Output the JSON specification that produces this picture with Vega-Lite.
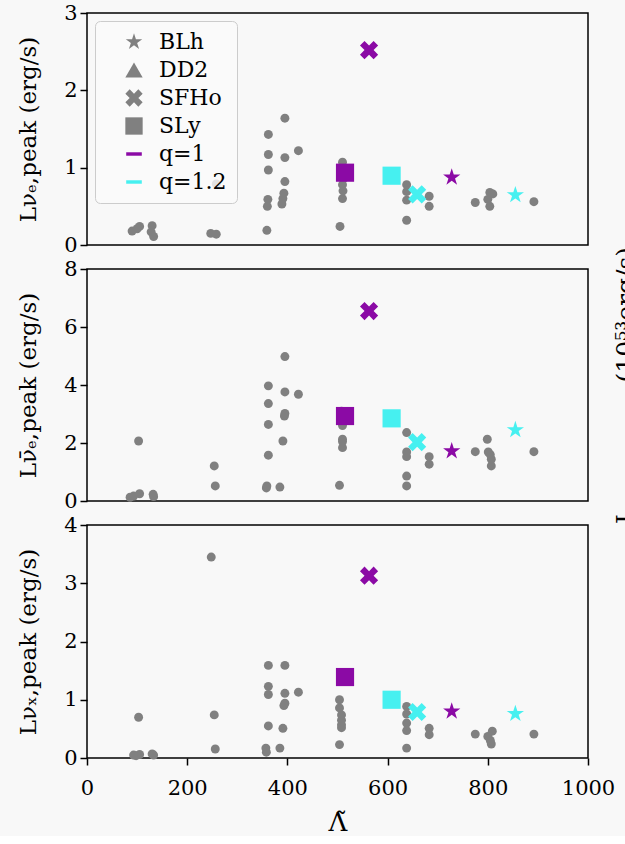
{
  "$schema": "https://vega.github.io/schema/vega-lite/v6.json",
  "background": "#f8f8f8",
  "padding": {"left": 16, "top": 1, "right": -8, "bottom": 0},
  "bounds": "flush",
  "spacing": 24,
  "data": {"name": "pts"},
  "datasets": {
    "pts": [
      {"p":"e","lam":90,"L":0.18,"eos":"","q":""},
      {"p":"e","lam":100,"L":0.21,"eos":"","q":""},
      {"p":"e","lam":105,"L":0.24,"eos":"","q":""},
      {"p":"e","lam":130,"L":0.25,"eos":"","q":""},
      {"p":"e","lam":133,"L":0.11,"eos":"","q":""},
      {"p":"e","lam":128,"L":0.17,"eos":"","q":""},
      {"p":"e","lam":247,"L":0.15,"eos":"","q":""},
      {"p":"e","lam":258,"L":0.14,"eos":"","q":""},
      {"p":"e","lam":258,"L":0.79,"eos":"","q":""},
      {"p":"e","lam":359,"L":0.19,"eos":"","q":""},
      {"p":"e","lam":360,"L":0.50,"eos":"","q":""},
      {"p":"e","lam":361,"L":0.59,"eos":"","q":""},
      {"p":"e","lam":362,"L":0.97,"eos":"","q":""},
      {"p":"e","lam":362,"L":1.17,"eos":"","q":""},
      {"p":"e","lam":362,"L":1.43,"eos":"","q":""},
      {"p":"e","lam":395,"L":1.64,"eos":"","q":""},
      {"p":"e","lam":395,"L":1.13,"eos":"","q":""},
      {"p":"e","lam":395,"L":0.82,"eos":"","q":""},
      {"p":"e","lam":393,"L":0.67,"eos":"","q":""},
      {"p":"e","lam":391,"L":0.60,"eos":"","q":""},
      {"p":"e","lam":389,"L":0.53,"eos":"","q":""},
      {"p":"e","lam":422,"L":1.22,"eos":"","q":""},
      {"p":"e","lam":510,"L":1.07,"eos":"","q":""},
      {"p":"e","lam":510,"L":0.95,"eos":"","q":""},
      {"p":"e","lam":512,"L":0.86,"eos":"","q":""},
      {"p":"e","lam":510,"L":0.78,"eos":"","q":""},
      {"p":"e","lam":511,"L":0.70,"eos":"","q":""},
      {"p":"e","lam":510,"L":0.60,"eos":"","q":""},
      {"p":"e","lam":505,"L":0.24,"eos":"","q":""},
      {"p":"e","lam":638,"L":0.78,"eos":"","q":""},
      {"p":"e","lam":638,"L":0.69,"eos":"","q":""},
      {"p":"e","lam":638,"L":0.58,"eos":"","q":""},
      {"p":"e","lam":638,"L":0.32,"eos":"","q":""},
      {"p":"e","lam":683,"L":0.63,"eos":"","q":""},
      {"p":"e","lam":683,"L":0.50,"eos":"","q":""},
      {"p":"e","lam":775,"L":0.55,"eos":"","q":""},
      {"p":"e","lam":800,"L":0.59,"eos":"","q":""},
      {"p":"e","lam":804,"L":0.68,"eos":"","q":""},
      {"p":"e","lam":810,"L":0.66,"eos":"","q":""},
      {"p":"e","lam":804,"L":0.50,"eos":"","q":""},
      {"p":"e","lam":892,"L":0.56,"eos":"","q":""},
      {"p":"e","lam":515,"L":0.935,"eos":"SLy","q":"q=1"},
      {"p":"e","lam":608,"L":0.896,"eos":"SLy","q":"q=1.2"},
      {"p":"e","lam":563,"L":2.52,"eos":"SFHo","q":"q=1"},
      {"p":"e","lam":659,"L":0.655,"eos":"SFHo","q":"q=1.2"},
      {"p":"e","lam":728,"L":0.875,"eos":"BLh","q":"q=1"},
      {"p":"e","lam":855,"L":0.647,"eos":"BLh","q":"q=1.2"},

      {"p":"ae","lam":86,"L":0.13,"eos":"","q":""},
      {"p":"ae","lam":93,"L":0.17,"eos":"","q":""},
      {"p":"ae","lam":103,"L":2.07,"eos":"","q":""},
      {"p":"ae","lam":105,"L":0.25,"eos":"","q":""},
      {"p":"ae","lam":132,"L":0.23,"eos":"","q":""},
      {"p":"ae","lam":133,"L":0.15,"eos":"","q":""},
      {"p":"ae","lam":254,"L":1.21,"eos":"","q":""},
      {"p":"ae","lam":256,"L":0.52,"eos":"","q":""},
      {"p":"ae","lam":359,"L":0.52,"eos":"","q":""},
      {"p":"ae","lam":358,"L":0.45,"eos":"","q":""},
      {"p":"ae","lam":362,"L":1.58,"eos":"","q":""},
      {"p":"ae","lam":362,"L":2.64,"eos":"","q":""},
      {"p":"ae","lam":362,"L":3.36,"eos":"","q":""},
      {"p":"ae","lam":362,"L":3.97,"eos":"","q":""},
      {"p":"ae","lam":385,"L":0.48,"eos":"","q":""},
      {"p":"ae","lam":395,"L":4.98,"eos":"","q":""},
      {"p":"ae","lam":395,"L":3.76,"eos":"","q":""},
      {"p":"ae","lam":395,"L":3.02,"eos":"","q":""},
      {"p":"ae","lam":394,"L":2.93,"eos":"","q":""},
      {"p":"ae","lam":391,"L":2.07,"eos":"","q":""},
      {"p":"ae","lam":422,"L":3.68,"eos":"","q":""},
      {"p":"ae","lam":508,"L":3.1,"eos":"","q":""},
      {"p":"ae","lam":510,"L":2.6,"eos":"","q":""},
      {"p":"ae","lam":510,"L":2.13,"eos":"","q":""},
      {"p":"ae","lam":510,"L":2.05,"eos":"","q":""},
      {"p":"ae","lam":510,"L":1.84,"eos":"","q":""},
      {"p":"ae","lam":504,"L":0.54,"eos":"","q":""},
      {"p":"ae","lam":638,"L":2.36,"eos":"","q":""},
      {"p":"ae","lam":638,"L":1.69,"eos":"","q":""},
      {"p":"ae","lam":638,"L":1.53,"eos":"","q":""},
      {"p":"ae","lam":638,"L":0.86,"eos":"","q":""},
      {"p":"ae","lam":638,"L":0.52,"eos":"","q":""},
      {"p":"ae","lam":683,"L":1.53,"eos":"","q":""},
      {"p":"ae","lam":683,"L":1.27,"eos":"","q":""},
      {"p":"ae","lam":775,"L":1.70,"eos":"","q":""},
      {"p":"ae","lam":799,"L":2.13,"eos":"","q":""},
      {"p":"ae","lam":801,"L":1.69,"eos":"","q":""},
      {"p":"ae","lam":805,"L":1.60,"eos":"","q":""},
      {"p":"ae","lam":807,"L":1.44,"eos":"","q":""},
      {"p":"ae","lam":807,"L":1.21,"eos":"","q":""},
      {"p":"ae","lam":892,"L":1.70,"eos":"","q":""},
      {"p":"ae","lam":515,"L":2.93,"eos":"SLy","q":"q=1"},
      {"p":"ae","lam":608,"L":2.85,"eos":"SLy","q":"q=1.2"},
      {"p":"ae","lam":563,"L":6.55,"eos":"SFHo","q":"q=1"},
      {"p":"ae","lam":659,"L":2.03,"eos":"SFHo","q":"q=1.2"},
      {"p":"ae","lam":728,"L":1.72,"eos":"BLh","q":"q=1"},
      {"p":"ae","lam":855,"L":2.45,"eos":"BLh","q":"q=1.2"},

      {"p":"x","lam":93,"L":0.05,"eos":"","q":""},
      {"p":"x","lam":98,"L":0.04,"eos":"","q":""},
      {"p":"x","lam":103,"L":0.70,"eos":"","q":""},
      {"p":"x","lam":105,"L":0.06,"eos":"","q":""},
      {"p":"x","lam":130,"L":0.07,"eos":"","q":""},
      {"p":"x","lam":133,"L":0.05,"eos":"","q":""},
      {"p":"x","lam":248,"L":3.45,"eos":"","q":""},
      {"p":"x","lam":254,"L":0.74,"eos":"","q":""},
      {"p":"x","lam":256,"L":0.155,"eos":"","q":""},
      {"p":"x","lam":362,"L":1.59,"eos":"","q":""},
      {"p":"x","lam":362,"L":1.23,"eos":"","q":""},
      {"p":"x","lam":362,"L":1.09,"eos":"","q":""},
      {"p":"x","lam":362,"L":0.55,"eos":"","q":""},
      {"p":"x","lam":357,"L":0.17,"eos":"","q":""},
      {"p":"x","lam":358,"L":0.10,"eos":"","q":""},
      {"p":"x","lam":385,"L":0.17,"eos":"","q":""},
      {"p":"x","lam":395,"L":1.59,"eos":"","q":""},
      {"p":"x","lam":395,"L":1.11,"eos":"","q":""},
      {"p":"x","lam":395,"L":0.94,"eos":"","q":""},
      {"p":"x","lam":393,"L":0.90,"eos":"","q":""},
      {"p":"x","lam":391,"L":0.51,"eos":"","q":""},
      {"p":"x","lam":422,"L":1.13,"eos":"","q":""},
      {"p":"x","lam":504,"L":1.0,"eos":"","q":""},
      {"p":"x","lam":504,"L":0.86,"eos":"","q":""},
      {"p":"x","lam":508,"L":0.74,"eos":"","q":""},
      {"p":"x","lam":508,"L":0.65,"eos":"","q":""},
      {"p":"x","lam":508,"L":0.57,"eos":"","q":""},
      {"p":"x","lam":508,"L":0.52,"eos":"","q":""},
      {"p":"x","lam":504,"L":0.23,"eos":"","q":""},
      {"p":"x","lam":638,"L":0.885,"eos":"","q":""},
      {"p":"x","lam":638,"L":0.755,"eos":"","q":""},
      {"p":"x","lam":638,"L":0.60,"eos":"","q":""},
      {"p":"x","lam":638,"L":0.47,"eos":"","q":""},
      {"p":"x","lam":638,"L":0.17,"eos":"","q":""},
      {"p":"x","lam":683,"L":0.51,"eos":"","q":""},
      {"p":"x","lam":683,"L":0.40,"eos":"","q":""},
      {"p":"x","lam":775,"L":0.41,"eos":"","q":""},
      {"p":"x","lam":809,"L":0.46,"eos":"","q":""},
      {"p":"x","lam":800,"L":0.37,"eos":"","q":""},
      {"p":"x","lam":805,"L":0.30,"eos":"","q":""},
      {"p":"x","lam":807,"L":0.24,"eos":"","q":""},
      {"p":"x","lam":892,"L":0.41,"eos":"","q":""},
      {"p":"x","lam":515,"L":1.39,"eos":"SLy","q":"q=1"},
      {"p":"x","lam":608,"L":1.0,"eos":"SLy","q":"q=1.2"},
      {"p":"x","lam":563,"L":3.13,"eos":"SFHo","q":"q=1"},
      {"p":"x","lam":659,"L":0.79,"eos":"SFHo","q":"q=1.2"},
      {"p":"x","lam":728,"L":0.80,"eos":"BLh","q":"q=1"},
      {"p":"x","lam":855,"L":0.76,"eos":"BLh","q":"q=1.2"}
    ]
  },
  "resolve": {"legend": {"shape": "independent", "color": "independent"}},
  "vconcat": [
    {
      "width": 501, "height": 232,
      "resolve": {"scale": {"shape": "independent", "color": "independent"}, "legend": {"shape": "independent", "color": "independent"}},
      "layer": [
        {
          "transform": [{"filter": "datum.p === 'e' && datum.eos === ''"}],
          "mark": {"type": "point", "filled": true, "shape": "circle", "size": 80, "color": "#808080", "opacity": 1},
          "encoding": {
            "x": {"field": "lam", "type": "quantitative", "scale": {"domain": [0, 1000]}, "axis": null},
            "y": {"field": "L", "type": "quantitative", "scale": {"domain": [0, 3]}, "axis": {"values": [0, 1, 2, 3], "format": "d", "title": "Lνₑ,peak (erg/s)"}}
          }
        },
        {
          "transform": [{"filter": "datum.p === 'e' && datum.eos !== ''"}],
          "mark": {"type": "point", "filled": true, "size": 330, "opacity": 1},
          "encoding": {
            "x": {"field": "lam", "type": "quantitative", "scale": {"domain": [0, 1000]}, "axis": null},
            "y": {"field": "L", "type": "quantitative", "scale": {"domain": [0, 3]}},
            "shape": {
              "field": "eos", "type": "nominal",
              "scale": {
                "domain": ["BLh", "DD2", "SFHo", "SLy"],
                "range": [
                  "M0,-1L0.2245,-0.309L0.951,-0.309L0.363,0.118L0.588,0.809L0,0.382L-0.588,0.809L-0.363,0.118L-0.951,-0.309L-0.2245,-0.309Z",
                  "triangle-up",
                  "M-1,-0.5L-0.5,-1L0,-0.5L0.5,-1L1,-0.5L0.5,0L1,0.5L0.5,1L0,0.5L-0.5,1L-1,0.5L-0.5,0Z",
                  "square"
                ]
              },
              "legend": null
            },
            "color": {"field": "q", "type": "nominal", "scale": {"domain": ["q=1", "q=1.2"], "range": ["#8b0aa5", "#46f0f0"]}, "legend": null}
          }
        },
        {
          "transform": [{"filter": "datum.p === 'legend-only'"}],
          "mark": {"type": "point", "filled": true, "size": 300, "opacity": 1},
          "encoding": {
            "x": {"field": "lam", "type": "quantitative", "scale": {"domain": [0, 1000]}, "axis": null},
            "y": {"field": "L", "type": "quantitative", "scale": {"domain": [0, 3]}},
            "shape": {
              "field": "eos", "type": "nominal",
              "scale": {
                "domain": ["BLh", "DD2", "SFHo", "SLy", "q=1", "q=1.2"],
                "range": [
                  "M0,-1L0.2245,-0.309L0.951,-0.309L0.363,0.118L0.588,0.809L0,0.382L-0.588,0.809L-0.363,0.118L-0.951,-0.309L-0.2245,-0.309Z",
                  "triangle-up",
                  "M-1,-0.5L-0.5,-1L0,-0.5L0.5,-1L1,-0.5L0.5,0L1,0.5L0.5,1L0,0.5L-0.5,1L-1,0.5L-0.5,0Z",
                  "square",
                  "M-0.9,-0.2L0.9,-0.2L0.9,0.2L-0.9,0.2Z",
                  "M-0.9,-0.2L0.9,-0.2L0.9,0.2L-0.9,0.2Z"
                ]
              },
              "legend": {
                "orient": "top-left", "offset": 8, "title": null,
                "labelFont": "DejaVu Serif", "labelFontSize": 22, "labelColor": "#000",
                "symbolSize": 300, "rowPadding": 6, "padding": 10,
                "fillColor": "rgba(250,250,250,0.8)", "strokeColor": "#cccccc", "cornerRadius": 5,
                "symbolOffset": 18, "labelOffset": 14
              }
            },
            "color": {
              "field": "eos", "type": "nominal",
              "scale": {"domain": ["BLh", "DD2", "SFHo", "SLy", "q=1", "q=1.2"], "range": ["#808080", "#808080", "#808080", "#808080", "#8b0aa5", "#46f0f0"]},
              "legend": {
                "orient": "top-left", "offset": 8, "title": null,
                "labelFont": "DejaVu Serif", "labelFontSize": 22, "labelColor": "#000",
                "symbolSize": 300, "rowPadding": 6, "padding": 10,
                "fillColor": "rgba(250,250,250,0.8)", "strokeColor": "#cccccc", "cornerRadius": 5,
                "symbolOffset": 18, "labelOffset": 14
              }
            }
          }
        }
      ]
    },
    {
      "width": 501, "height": 232,
      "resolve": {"axis": {"y": "independent"}},
      "layer": [
        {
          "transform": [{"filter": "datum.p === 'ae' && datum.eos === ''"}],
          "mark": {"type": "point", "filled": true, "shape": "circle", "size": 80, "color": "#808080", "opacity": 1},
          "encoding": {
            "x": {"field": "lam", "type": "quantitative", "scale": {"domain": [0, 1000]}, "axis": null},
            "y": {"field": "L", "type": "quantitative", "scale": {"domain": [0, 8]}, "axis": {"values": [0, 2, 4, 6, 8], "format": "d", "title": "Lν̄ₑ,peak (erg/s)"}}
          }
        },
        {
          "transform": [{"filter": "datum.p === 'ae' && datum.eos !== ''"}],
          "mark": {"type": "point", "filled": true, "size": 330, "opacity": 1},
          "encoding": {
            "x": {"field": "lam", "type": "quantitative", "scale": {"domain": [0, 1000]}, "axis": null},
            "y": {"field": "L", "type": "quantitative", "scale": {"domain": [0, 8]}, "axis": {"orient": "right", "title": "L\u2003\u2003\u2003\u2003\u2003(10⁵³erg/s)", "labels": false, "ticks": false, "domain": false, "titleAngle": 270, "titlePadding": 50, "titleFontSize": 25}},
            "shape": {
              "field": "eos", "type": "nominal",
              "scale": {
                "domain": ["BLh", "DD2", "SFHo", "SLy"],
                "range": [
                  "M0,-1L0.2245,-0.309L0.951,-0.309L0.363,0.118L0.588,0.809L0,0.382L-0.588,0.809L-0.363,0.118L-0.951,-0.309L-0.2245,-0.309Z",
                  "triangle-up",
                  "M-1,-0.5L-0.5,-1L0,-0.5L0.5,-1L1,-0.5L0.5,0L1,0.5L0.5,1L0,0.5L-0.5,1L-1,0.5L-0.5,0Z",
                  "square"
                ]
              },
              "legend": null
            },
            "color": {"field": "q", "type": "nominal", "scale": {"domain": ["q=1", "q=1.2"], "range": ["#8b0aa5", "#46f0f0"]}, "legend": null}
          }
        }
      ]
    },
    {
      "width": 501, "height": 233,
      "layer": [
        {
          "transform": [{"filter": "datum.p === 'x' && datum.eos === ''"}],
          "mark": {"type": "point", "filled": true, "shape": "circle", "size": 80, "color": "#808080", "opacity": 1},
          "encoding": {
            "x": {"field": "lam", "type": "quantitative", "scale": {"domain": [0, 1000]}, "axis": {"values": [0, 200, 400, 600, 800, 1000], "format": "d", "title": "Λ̃", "titleFontSize": 26, "labelPadding": 12, "titlePadding": 11, "labelFlush": false}},
            "y": {"field": "L", "type": "quantitative", "scale": {"domain": [0, 4]}, "axis": {"values": [0, 1, 2, 3, 4], "format": "d", "title": "Lνₓ,peak (erg/s)"}}
          }
        },
        {
          "transform": [{"filter": "datum.p === 'x' && datum.eos !== ''"}],
          "mark": {"type": "point", "filled": true, "size": 330, "opacity": 1},
          "encoding": {
            "x": {"field": "lam", "type": "quantitative", "scale": {"domain": [0, 1000]}},
            "y": {"field": "L", "type": "quantitative", "scale": {"domain": [0, 4]}},
            "shape": {
              "field": "eos", "type": "nominal",
              "scale": {
                "domain": ["BLh", "DD2", "SFHo", "SLy"],
                "range": [
                  "M0,-1L0.2245,-0.309L0.951,-0.309L0.363,0.118L0.588,0.809L0,0.382L-0.588,0.809L-0.363,0.118L-0.951,-0.309L-0.2245,-0.309Z",
                  "triangle-up",
                  "M-1,-0.5L-0.5,-1L0,-0.5L0.5,-1L1,-0.5L0.5,0L1,0.5L0.5,1L0,0.5L-0.5,1L-1,0.5L-0.5,0Z",
                  "square"
                ]
              },
              "legend": null
            },
            "color": {"field": "q", "type": "nominal", "scale": {"domain": ["q=1", "q=1.2"], "range": ["#8b0aa5", "#46f0f0"]}, "legend": null}
          }
        }
      ]
    }
  ],
  "config": {
    "font": "DejaVu Serif",
    "view": {"stroke": "#000000", "strokeWidth": 1.5},
    "axis": {
      "labelFont": "DejaVu Serif", "titleFont": "DejaVu Serif",
      "labelFontSize": 21, "titleFontSize": 23, "titleFontWeight": "normal",
      "labelColor": "#000000", "titleColor": "#000000",
      "tickColor": "#000000", "tickSize": 7, "tickWidth": 1.5,
      "domain": false, "grid": false, "labelPadding": 3, "titlePadding": 23, "labelFlush": false
    },
    "legend": {"labelFont": "DejaVu Serif"}
  }
}
